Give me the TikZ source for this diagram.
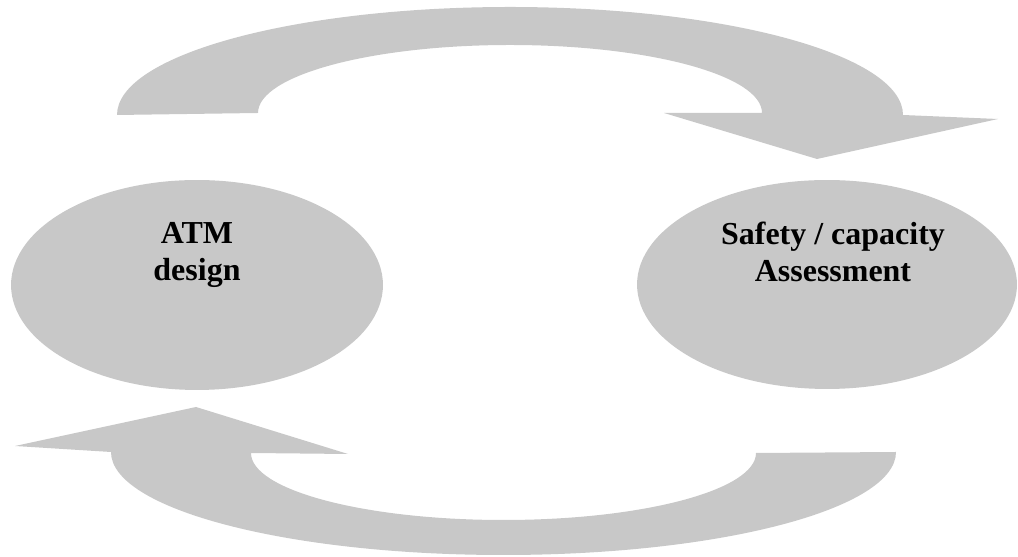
\documentclass[tikz,border=0pt]{standalone}
\usepackage{fontspec}
\setmainfont{Liberation Serif}
\usetikzlibrary{shapes.geometric}
\definecolor{shapegray}{RGB}{200,200,200}
\tikzset{
  blob/.style={ellipse, fill=shapegray, draw=none, inner sep=0pt},
  blobtext/.style={align=center, font=\fontsize{18.2}{21}\selectfont\bfseries},
  bigarrow/.style={fill=shapegray, draw=none}
}
\begin{document}
\begin{tikzpicture}[x=0.02cm, y=0.02cm]
            \useasboundingbox (0,0) rectangle (1018,557);
            % 两个椭圆
            \node[blob, minimum width=7.44cm, minimum height=4.2cm] (atm) at (197,272) {};
            \node[blob, minimum width=7.6cm, minimum height=4.18cm] (safety) at (827,272.5) {};
            \node[blobtext] (atmtext) at (197,302) {ATM\\design};
            \node[blobtext] (safetytext) at (833,305) {Safety / capacity\\Assessment};
            % 上方箭头
            \fill[bigarrow] (117,442) arc[start angle=180, end angle=0, x radius=393, y radius=108]
                -- (998,438) -- (817,398) -- (664,444) -- (762,444)
                arc[start angle=0, end angle=180, x radius=252, y radius=68] -- cycle;
            % 下方箭头
            \fill[bigarrow] (896,105) arc[start angle=0, end angle=-180, x radius=392.5, y radius=103]
                -- (15,111) -- (196,150) -- (348,103) -- (251,104)
                arc[start angle=180, end angle=360, x radius=252.5, y radius=67] -- cycle;
        \end{tikzpicture}
\end{document}
